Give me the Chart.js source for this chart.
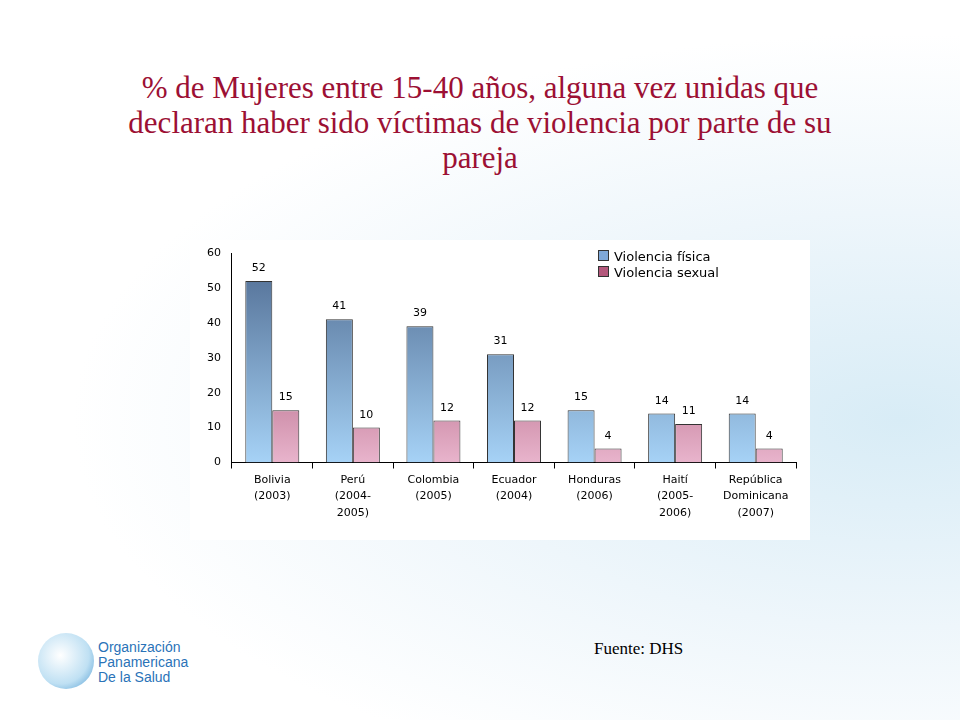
<!DOCTYPE html>
<html><head><meta charset="utf-8">
<script src="https://cdn.jsdelivr.net/npm/chart.js@4"></script>
<style>
body{margin:0;width:960px;height:720px;position:relative;overflow:hidden;font-family:"DejaVu Sans";
background:radial-gradient(ellipse at 900px 420px,#d8ecf6 0%,#eef6fb 35%,#ffffff 65%);}
#title{position:absolute;left:60px;top:70px;width:840px;text-align:center;font-family:"Liberation Serif";font-size:31px;line-height:35px;color:#9c1034;}
#box{position:absolute;left:190px;top:240px;width:620px;height:300px;background:#fff;}
#legend{position:absolute;left:598px;top:249px;font-size:13px;line-height:16px;color:#000;}
#legend span{display:inline-block;width:9px;height:9px;border:1px solid #333;margin-right:5px;}
#src{position:absolute;left:594px;top:639px;font-family:"Liberation Serif";font-size:17px;}
#ops{position:absolute;left:98px;top:640px;font-family:"Liberation Sans";font-size:14px;line-height:15px;color:#2a73b8;}
#globe{position:absolute;left:38px;top:633px;width:56px;height:56px;border-radius:50%;background:radial-gradient(circle at 40% 40%,#fff 0%,#bfe0f3 60%,#4a98d0 100%);}
</style></head><body>
<div id="title">% de Mujeres entre 15-40 años, alguna vez unidas que<br>declaran haber sido víctimas de violencia por parte de su<br>pareja</div>
<div id="box"><canvas id="c" width="620" height="300"></canvas></div>
<div id="legend"><div><span style="background:#7fa8d8"></span>Violencia física</div><div><span style="background:#b4587c"></span>Violencia sexual</div></div>
<div id="globe"></div>
<div id="ops">Organización<br>Panamericana<br>De la Salud</div>
<div id="src">Fuente: DHS</div>
<script>
const categorias = [["Bolivia","(2003)"],["Perú","(2004-","2005)"],["Colombia","(2005)"],["Ecuador","(2004)"],["Honduras","(2006)"],["Haití","(2005-","2006)"],["República","Dominicana","(2007)"]];
const violenciaFisica = [52, 41, 39, 31, 15, 14, 14];
const violenciaSexual = [15, 10, 12, 12, 4, 11, 4];

function grad(top, bottom){
  return function(ctx){
    const a = ctx.chart.chartArea; if(!a) return top;
    const g = ctx.chart.ctx.createLinearGradient(0, a.top, 0, a.bottom);
    g.addColorStop(0, top); g.addColorStop(1, bottom); return g;
  };
}
const etiquetas = {
  id:'etiquetas',
  afterDatasetsDraw(chart){
    const c = chart.ctx; c.save(); c.font='11px "DejaVu Sans"'; c.fillStyle='#000'; c.textAlign='center';
    chart.data.datasets.forEach((ds,i)=>{
      chart.getDatasetMeta(i).data.forEach((b,j)=>{ c.fillText(ds.data[j], b.x, b.y-10); });
    });
    c.restore();
  }
};
new Chart(document.getElementById('c'), {
  type:'bar',
  data:{ labels:categorias, datasets:[
    {label:'Violencia física', data:violenciaFisica, backgroundColor:grad('#4e6a90','#a6d2f6'), borderColor:'#333', borderWidth:1},
    {label:'Violencia sexual', data:violenciaSexual, backgroundColor:grad('#88284a','#e8b4cc'), borderColor:'#333', borderWidth:1}
  ]},
  options:{
    responsive:false, animation:false,
    layout:{padding:{left:14,right:14,top:13,bottom:16}},
    plugins:{legend:{display:false}, tooltip:{enabled:false}},
    datasets:{bar:{categoryPercentage:0.67, barPercentage:1}},
    scales:{
      y:{min:0,max:60,ticks:{stepSize:10,color:'#000',font:{family:'DejaVu Sans',size:11}},
         grid:{display:false}, border:{color:'#000'}},
      x:{ticks:{color:'#000',font:{family:'DejaVu Sans',size:11,lineHeight:1.5},maxRotation:0,autoSkip:false},
         grid:{display:true,drawOnChartArea:false,tickLength:6,color:'#000'}, border:{color:'#000'}}
    }
  },
  plugins:[etiquetas]
});
</script>
</body></html>
